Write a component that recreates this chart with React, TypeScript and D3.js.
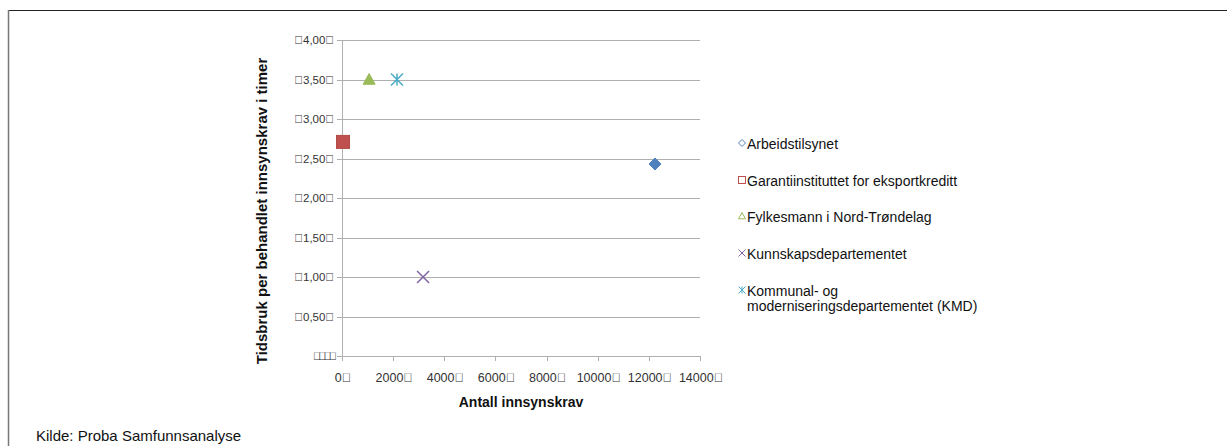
import React from "react";
import * as d3 from "d3";

const seriesNames = [
  "Arbeidstilsynet",
  "Garantiinstituttet for eksportkreditt",
  "Fylkesmann i Nord-Trøndelag",
  "Kunnskapsdepartementet",
  "Kommunal- og moderniseringsdepartementet (KMD)",
];
const xValues = [12240, 40, 1060, 3170, 2150];
const yValues = [2.43, 2.71, 3.5, 1.0, 3.5];
const colors = ["#4F81BD", "#C0504D", "#9BBB59", "#8064A2", "#4BACC6"];
const xTicks = [0, 2000, 4000, 6000, 8000, 10000, 12000, 14000];
const yTicks = [0.5, 1, 1.5, 2, 2.5, 3, 3.5, 4];
const yTickLabels = ["0,50", "1,00", "1,50", "2,00", "2,50", "3,00", "3,50", "4,00"];

const TOFU = "\uE000";

function Marker({ i, cx, cy, s, filled }: { i: number; cx: number; cy: number; s: number; filled: boolean }) {
  const c = colors[i];
  const fill = filled ? c : "none";
  const h = s / 2;
  if (i === 0) {
    return <path d={`M${cx},${cy - h}L${cx + h},${cy}L${cx},${cy + h}L${cx - h},${cy}Z`} fill={fill} stroke={c} strokeWidth={1} />;
  }
  if (i === 1) {
    return <rect x={cx - h} y={cy - h} width={s} height={s} fill={fill} stroke={filled ? "#b04a47" : c} strokeWidth={1} />;
  }
  if (i === 2) {
    return <path d={`M${cx},${cy - h}L${cx + h},${cy + h * 0.8}L${cx - h},${cy + h * 0.8}Z`} fill={fill} stroke={c} strokeWidth={1} />;
  }
  if (i === 3) {
    return <path d={`M${cx - h},${cy - h}L${cx + h},${cy + h}M${cx + h},${cy - h}L${cx - h},${cy + h}`} stroke={c} strokeWidth={filled ? 1.5 : 1} />;
  }
  return (
    <path
      d={`M${cx - h},${cy - h}L${cx + h},${cy + h}M${cx + h},${cy - h}L${cx - h},${cy + h}M${cx},${cy - h}L${cx},${cy + h}`}
      stroke={c}
      strokeWidth={filled ? 1.5 : 1}
    />
  );
}

export default function App() {
  const W = 1227;
  const H = 446;
  const x = d3.scaleLinear().domain([0, 14000]).range([342, 700]);
  const y = d3.scaleLinear().domain([0, 4]).range([356, 40]);
  const grid = "#AFAFAF";
  const font = "'Liberation Sans', Arial, sans-serif";
  const legendY = [149, 186, 222, 259, 296];

  return (
    <svg width={W} height={H} style={{ position: "absolute", left: 0, top: 0 }} fontFamily={font}>
      <rect x={0} y={0} width={W} height={H} fill="#fff" />
      <line x1={8} x2={W} y1={10.5} y2={10.5} stroke="#222" strokeWidth={1} />
      <line x1={8.5} x2={8.5} y1={10} y2={H} stroke="#777" strokeWidth={1.5} />

      {yTicks.map((t) => (
        <line key={t} x1={337} x2={700} y1={Math.round(y(t)) + 0.5} y2={Math.round(y(t)) + 0.5} stroke={grid} strokeWidth={1} />
      ))}
      <line x1={337} x2={700} y1={356.5} y2={356.5} stroke={grid} />
      <line x1={342.5} x2={342.5} y1={40} y2={357} stroke={grid} />
      {xTicks.map((t) => (
        <line key={t} x1={Math.round(x(t)) + 0.5} x2={Math.round(x(t)) + 0.5} y1={356} y2={361} stroke={grid} />
      ))}

      {yTicks.map((t, k) => (
        <text key={t} x={334} y={y(t) + 4} textAnchor="end" fontSize={11.5} fill="#333">
          {TOFU + yTickLabels[k] + TOFU}
        </text>
      ))}
      <text x={334} y={y(0) + 4} textAnchor="end" fontSize={11} fill="#333" letterSpacing={-3}>
        {TOFU + " " + TOFU + TOFU + TOFU}
      </text>
      {xTicks.map((t) => (
        <text key={t} x={x(t) + 1} y={382} textAnchor="middle" fontSize={12.5} fill="#333">
          {String(t) + TOFU}
        </text>
      ))}

      <text x={521} y={407} textAnchor="middle" fontSize={14} fontWeight="bold" fill="#111">
        Antall innsynskrav
      </text>
      <text transform={`translate(267,211) rotate(-90)`} textAnchor="middle" fontSize={15} fontWeight="bold" fill="#111">
        Tidsbruk per behandlet innsynskrav i timer
      </text>

      {xValues.map((v, i) => (
        <Marker key={i} i={i} cx={x(v)} cy={y(yValues[i])} s={i === 1 ? 13 : 12} filled={true} />
      ))}

      {seriesNames.map((n, i) => (
        <g key={n}>
          <Marker i={i} cx={742} cy={legendY[i] - 6} s={7} filled={false} />
          {i < 4 ? (
            <text x={747} y={legendY[i]} fontSize={14} fill="#111">
              {n}
            </text>
          ) : (
            <text x={747} y={legendY[i]} fontSize={14} fill="#111">
              <tspan>Kommunal- og</tspan>
              <tspan x={747} dy={15}>
                moderniseringsdepartementet (KMD)
              </tspan>
            </text>
          )}
        </g>
      ))}

      <text x={36} y={441} fontSize={15} fill="#111">
        Kilde: Proba Samfunnsanalyse
      </text>
    </svg>
  );
}
